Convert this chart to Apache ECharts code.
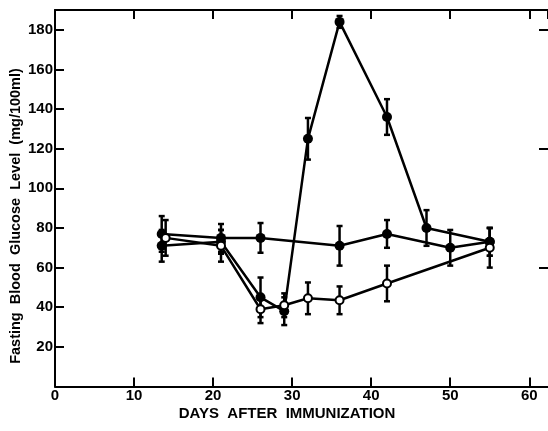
<!DOCTYPE html>
<html>
<head>
<meta charset="utf-8">
<script src="https://cdn.jsdelivr.net/npm/echarts@6/dist/echarts.min.js"></script>
<style>
  html, body { margin: 0; padding: 0; background: #fff; }
  #chart { width: 548px; height: 431px; }
</style>
</head>
<body>
<div id="chart"></div>
<script>
// days after immunization, glucose mean, +/- error
// group with the big peak (filled circles)
const peakDays = [13.5, 21, 26, 29, 32, 36, 42, 47, 55];
const peakMean = [71, 73, 45, 38, 125, 184, 136, 80, 73];
const peakErr = [8, 6, 10, 7, 10.5, 3, 9, 9, 7];

// flat group (filled circles)
const flatDays = [13.5, 21, 26, 36, 42, 50, 55];
const flatMean = [77, 75, 75, 71, 77, 70, 73];
const flatErr = [9, 7, 7.5, 10, 7, 9, 7];

// low group (open circles)
const openDays = [14, 21, 26, 29, 32, 36, 42, 55];
const openMean = [75, 71, 39, 41, 44.5, 43.5, 52, 70];
const openErr = [9, 8, 7, 6, 8, 7, 9, 10];

const xTicks = [0, 10, 20, 30, 40, 50, 60];
const yTicks = [20, 40, 60, 80, 100, 120, 140, 160, 180];

const FONT = "Liberation Sans";

function pts(days, mean) {
  return days.map((d, i) => [d, mean[i]]);
}
function bars(days, mean, err) {
  return days.map((d, i) => [d, mean[i] - err[i], mean[i] + err[i]]);
}

// error bar: vertical line with small caps
function renderBar(params, api) {
  const x = api.value(0);
  const lo = api.coord([x, api.value(1)]);
  const hi = api.coord([x, api.value(2)]);
  const cap = 3;
  const st = { stroke: "#000", lineWidth: 2.5 };
  return {
    type: "group",
    children: [
      { type: "line", shape: { x1: lo[0], y1: lo[1], x2: hi[0], y2: hi[1] }, style: st },
      { type: "line", shape: { x1: lo[0] - cap, y1: lo[1], x2: lo[0] + cap, y2: lo[1] }, style: st },
      { type: "line", shape: { x1: hi[0] - cap, y1: hi[1], x2: hi[0] + cap, y2: hi[1] }, style: st },
    ],
  };
}

const chart = echarts.init(document.getElementById("chart"));

const lineStyle = { color: "#000", width: 2.5 };
const tickLabel = { color: "#000", fontFamily: FONT, fontSize: 15, fontWeight: "bold" };
const axisLine = { onZero: false, lineStyle: { color: "#000", width: 2 } };
const axisTick = { inside: true, length: 9, lineStyle: { color: "#000", width: 2 } };

let option = {
  animation: false,
  grid: { left: 55, top: 10, right: 0, bottom: 44.5 },
  xAxis: [
    {
      type: "value",
      min: 0,
      max: 62.37,
      interval: 10,
      axisLine: axisLine,
      axisTick: axisTick,
      axisLabel: {
        ...tickLabel,
        margin: 2,
        showMaxLabel: false,
        formatter: (v) => (xTicks.includes(v) ? String(v) : ""),
      },
      splitLine: { show: false },
    },
    {
      type: "value",
      position: "top",
      min: 0,
      max: 62.37,
      interval: 10,
      axisLine: axisLine,
      axisTick: axisTick,
      axisLabel: { show: false },
      splitLine: { show: false },
    },
  ],
  yAxis: [
    {
      type: "value",
      min: 0,
      max: 190,
      interval: 20,
      axisLine: axisLine,
      axisTick: axisTick,
      axisLabel: {
        ...tickLabel,
        margin: 2,
        showMinLabel: false,
        showMaxLabel: false,
        formatter: (v) => (yTicks.includes(v) ? String(v) : ""),
      },
      splitLine: { show: false },
    },
    {
      // right border is cut off in the scan, only its ticks show
      type: "value",
      position: "right",
      min: 0,
      max: 190,
      interval: 60,
      axisLine: { show: false, onZero: false },
      axisTick: axisTick,
      axisLabel: { show: false },
      splitLine: { show: false },
    },
  ],
  graphic: [
    {
      type: "text",
      x: 287,
      y: 414,
      style: {
        text: "DAYS  AFTER  IMMUNIZATION",
        fill: "#000",
        font: "bold 15px " + FONT,
        textAlign: "center",
        textVerticalAlign: "middle",
      },
    },
    {
      type: "text",
      x: 16,
      y: 216,
      rotation: Math.PI / 2,
      style: {
        text: "Fasting  Blood  Glucose  Level  (mg/100ml)",
        fill: "#000",
        font: "bold 14.5px " + FONT,
        textAlign: "center",
        textVerticalAlign: "middle",
      },
    },
  ],
  series: [
    { type: "custom", renderItem: renderBar, data: bars(peakDays, peakMean, peakErr), z: 1 },
    { type: "custom", renderItem: renderBar, data: bars(flatDays, flatMean, flatErr), z: 1 },
    { type: "custom", renderItem: renderBar, data: bars(openDays, openMean, openErr), z: 1 },
    {
      type: "line",
      data: pts(peakDays, peakMean),
      symbol: "circle",
      symbolSize: 10,
      lineStyle: lineStyle,
      itemStyle: { color: "#000" },
      z: 3,
    },
    {
      type: "line",
      data: pts(flatDays, flatMean),
      symbol: "circle",
      symbolSize: 10,
      lineStyle: lineStyle,
      itemStyle: { color: "#000" },
      z: 3,
    },
    {
      type: "line",
      data: pts(openDays, openMean),
      symbol: "circle",
      symbolSize: 8,
      lineStyle: lineStyle,
      itemStyle: { color: "#fff", borderColor: "#000", borderWidth: 2 },
      z: 4,
    },
  ],
};

chart.setOption(option);
</script>
</body>
</html>
